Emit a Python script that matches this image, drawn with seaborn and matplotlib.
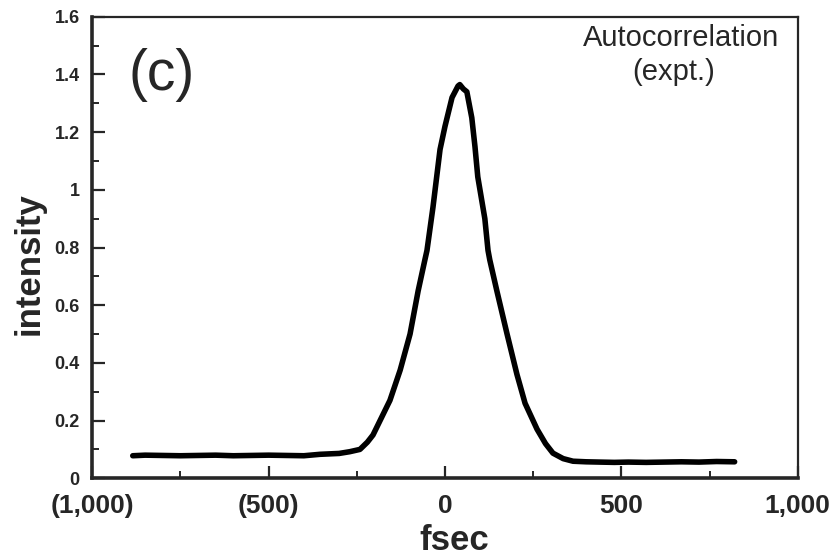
import matplotlib
matplotlib.use("Agg")
import matplotlib.pyplot as plt
import numpy as np
import pandas as pd
import seaborn as sns
from matplotlib.ticker import MultipleLocator

sns.set_style("ticks")
plt.rcParams['font.family'] = ['Liberation Sans', 'DejaVu Sans']

# data
fsec = [-885, -850, -800, -750, -700, -650, -600, -550, -500, -450, -400, -354, -300, -270,
        -241, -220, -204, -180, -156, -127, -99, -76, -57, -51, -34, -14, 0, 20, 37, 42,
        52, 62, 76, 85, 93, 113, 122, 127, 147, 176, 204, 227, 261, 285, 306, 335, 363,
        400, 439, 480, 520, 570, 620, 670, 720, 770, 821]
intensity = [0.078, 0.080, 0.079, 0.078, 0.079, 0.080, 0.078, 0.079, 0.080, 0.079, 0.078, 0.083, 0.086, 0.092,
             0.100, 0.125, 0.150, 0.210, 0.270, 0.375, 0.500, 0.650, 0.757, 0.790, 0.940, 1.140, 1.220, 1.320, 1.360, 1.365,
             1.350, 1.340, 1.250, 1.150, 1.045, 0.900, 0.790, 0.757, 0.650, 0.500, 0.360, 0.260, 0.170, 0.120, 0.087, 0.068, 0.059,
             0.057, 0.056, 0.055, 0.056, 0.055, 0.056, 0.057, 0.056, 0.058, 0.057]

xtick_values = [-1000, -500, 0, 500, 1000]
xtick_labels = ["(1,000)", "(500)", "0", "500", "1,000"]
ytick_values = [0, 0.2, 0.4, 0.6, 0.8, 1.0, 1.2, 1.4, 1.6]
ytick_labels = ["0", "0.2", "0.4", "0.6", "0.8", "1", "1.2", "1.4", "1.6"]

df = pd.DataFrame({"fsec": fsec, "intensity": intensity})

fig = plt.figure(figsize=(8.38, 5.6), dpi=100)
ax = fig.add_axes([0.110, 0.146, 0.842, 0.824])

sns.lineplot(data=df, x="fsec", y="intensity", ax=ax, color="black",
             linewidth=4.0, sort=False, estimator=None)

ax.set_xlim(-1000, 1000)
ax.set_ylim(0, 1.6)
ax.set_xticks(xtick_values)
ax.set_xticklabels(xtick_labels, fontsize=19, fontweight="bold")
ax.set_yticks(ytick_values)
ax.set_yticklabels(ytick_labels, fontsize=13, fontweight="bold")
ax.xaxis.set_minor_locator(MultipleLocator(250))
ax.yaxis.set_minor_locator(MultipleLocator(0.1))
ax.tick_params(axis="both", which="major", direction="in", length=9, width=1.6,
               top=False, right=False)
ax.tick_params(axis="both", which="minor", direction="in", length=5, width=1.4,
               top=False, right=False)
ax.tick_params(axis="x", which="major", pad=11)
ax.tick_params(axis="y", which="major", pad=9)

for side in ["left", "bottom"]:
    ax.spines[side].set_linewidth(2.6)
for side in ["top", "right"]:
    ax.spines[side].set_linewidth(1.6)
    ax.spines[side].set_visible(True)

ax.set_xlabel("fsec", fontsize=25, fontweight="bold")
ax.set_ylabel("intensity", fontsize=25, fontweight="bold")
ax.xaxis.set_label_coords(0.513, -0.100)
ax.yaxis.set_label_coords(-0.066, 0.466)

ax.text(0.098, 0.874, "(c)", transform=ax.transAxes, fontsize=41,
        ha="center", va="center")
ax.text(0.834, 0.955, "Autocorrelation", transform=ax.transAxes, fontsize=21,
        ha="center", va="center")
ax.text(0.824, 0.880, "(expt.)", transform=ax.transAxes, fontsize=21,
        ha="center", va="center")

fig.savefig("out.png", dpi=100)
